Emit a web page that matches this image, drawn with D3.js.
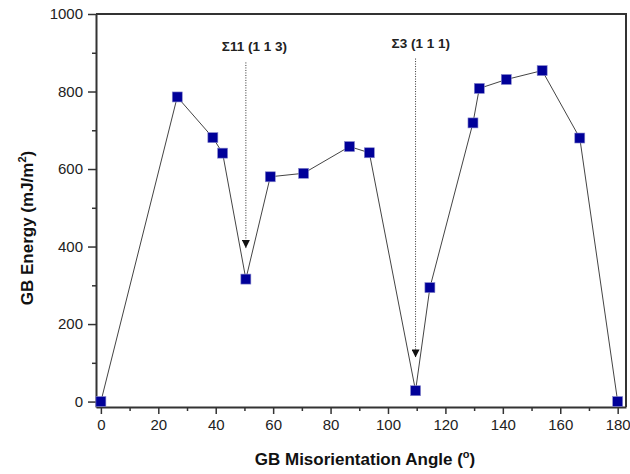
<!DOCTYPE html>
<html>
<head>
<meta charset="utf-8">
<script src="https://cdn.jsdelivr.net/npm/d3@7"></script>
<style>
  body { margin: 0; background: #fff; }
  svg text { font-family: Arial, "Liberation Sans", sans-serif; }
</style>
</head>
<body>
<div id="chart"></div>
<script>
// misorientation angle (deg) and GB energy (mJ/m^2)
const angles = [0, 26.6, 39, 42.4, 50.5, 59, 70.6, 86.6, 93.5, 109.6, 114.6, 129.6, 131.8, 141.2, 153.7, 166.8, 180];
const energies = [0, 786, 681, 641, 316, 580, 589, 658, 642, 28, 294, 719, 808, 831, 854, 680, 0];

const xTicks = [0, 20, 40, 60, 80, 100, 120, 140, 160, 180];
const yTicks = [0, 200, 400, 600, 800, 1000];

// special boundaries marked with arrows
const annoLabels = ["\u03A311 (1 1 3)", "\u03A33 (1 1 1)"];
const annoAngles = [50.5, 109.6];
const annoTop = [875, 885];
const annoTip = [396, 114];

(function () {
  const w = 630, h = 474;
  const margin = { top: 14, right: 4, bottom: 67, left: 96 };
  const width = w - margin.left - margin.right;
  const height = h - margin.top - margin.bottom;

  const svg = d3.select('#chart').append('svg')
    .attr('width', w)
    .attr('height', h);

  const x = d3.scaleLinear().domain([-1.7, 182.9]).range([0, width]);
  const y = d3.scaleLinear().domain([-14, 1000]).range([height, 0]);

  const chart = svg.append('g')
    .attr('transform', 'translate(' + margin.left + ',' + margin.top + ')');

  // minor ticks first
  chart.append('g')
    .attr('transform', 'translate(0,' + height + ')')
    .call(d3.axisBottom(x).tickValues(d3.range(10, 180, 20)).tickSize(4).tickFormat(''))
    .call(g => g.select('.domain').remove())
    .selectAll('line').attr('stroke', '#333').attr('stroke-width', 1.5);

  chart.append('g')
    .call(d3.axisLeft(y).tickValues(d3.range(100, 1000, 200)).tickSize(4).tickFormat(''))
    .call(g => g.select('.domain').remove())
    .selectAll('line').attr('stroke', '#333').attr('stroke-width', 1.5);

  // major axes
  const xAxis = chart.append('g')
    .attr('transform', 'translate(0,' + height + ')')
    .call(d3.axisBottom(x).tickValues(xTicks).tickSize(7).tickPadding(5).tickSizeOuter(0).tickFormat(d3.format('d')));
  xAxis.select('.domain').attr('stroke', '#333').attr('stroke-width', 2);
  xAxis.selectAll('line').attr('stroke', '#333').attr('stroke-width', 1.5);
  xAxis.selectAll('text').attr('font-size', 15).attr('fill', '#222');

  const yAxis = chart.append('g')
    .call(d3.axisLeft(y).tickValues(yTicks).tickSize(8).tickPadding(5).tickSizeOuter(0).tickFormat(d3.format('d')));
  yAxis.select('.domain').attr('stroke', '#333').attr('stroke-width', 2);
  yAxis.selectAll('line').attr('stroke', '#333').attr('stroke-width', 1.5);
  yAxis.selectAll('text').attr('font-size', 15).attr('fill', '#222');

  // top and right frame
  chart.append('path')
    .attr('d', 'M0,0H' + width + 'V' + height)
    .attr('fill', 'none')
    .attr('stroke', '#333')
    .attr('stroke-width', 2);

  // annotations
  const defs = svg.append('defs');
  defs.append('marker')
    .attr('id', 'head')
    .attr('viewBox', '0 0 10 10')
    .attr('refX', 10).attr('refY', 5)
    .attr('markerWidth', 8).attr('markerHeight', 8)
    .attr('markerUnits', 'userSpaceOnUse')
    .attr('orient', 'auto')
    .append('path').attr('d', 'M0,0L10,5L0,10Z').attr('fill', '#111');

  annoLabels.forEach(function (lab, i) {
    const ax = x(annoAngles[i]);
    chart.append('line')
      .attr('x1', ax).attr('x2', ax)
      .attr('y1', y(annoTop[i])).attr('y2', y(annoTip[i]))
      .attr('stroke', '#333')
      .attr('stroke-width', 1)
      .attr('stroke-dasharray', '1,1.5')
      .attr('marker-end', 'url(#head)');
    chart.append('text')
      .attr('x', ax - 24)
      .attr('y', y(annoTop[i]) - 11)
      .attr('font-size', 13.5)
      .attr('font-weight', 'bold')
      .attr('fill', '#222')
      .style('font-family', '"Liberation Sans Narrow", "Liberation Sans", Arial, sans-serif')
      .text(lab);
  });

  // data line + markers
  const pts = angles.map((a, i) => ({ a: a, e: energies[i] }));
  chart.append('path')
    .datum(pts)
    .attr('fill', 'none')
    .attr('stroke', '#444')
    .attr('stroke-width', 1)
    .attr('d', d3.line().x(d => x(d.a)).y(d => y(d.e)));

  const s = 10;
  chart.selectAll('rect.pt')
    .data(pts)
    .enter()
    .append('rect')
    .attr('class', 'pt')
    .attr('x', d => x(d.a) - s / 2)
    .attr('y', d => y(d.e) - s / 2)
    .attr('width', s)
    .attr('height', s)
    .attr('fill', '#000099')
    .attr('stroke', '#8888cc')
    .attr('stroke-width', 0.6);

  // axis titles
  const xt = svg.append('text')
    .attr('x', margin.left + width / 2 + 4)
    .attr('y', 465)
    .attr('text-anchor', 'middle')
    .attr('font-size', 17)
    .attr('font-weight', 'bold')
    .attr('fill', '#111');
  xt.append('tspan').text('GB Misorientation Angle (');
  xt.append('tspan').attr('dy', -7).attr('font-size', 11).text('o');
  xt.append('tspan').attr('dy', 7).text(')');

  const yt = svg.append('text')
    .attr('transform', 'translate(33,228) rotate(-90)')
    .attr('text-anchor', 'middle')
    .attr('font-size', 17)
    .attr('font-weight', 'bold')
    .attr('fill', '#111');
  yt.append('tspan').text('GB Energy (mJ/m');
  yt.append('tspan').attr('dy', -7).attr('font-size', 11).text('2');
  yt.append('tspan').attr('dy', 7).text(')');
})();
</script>
</body>
</html>
